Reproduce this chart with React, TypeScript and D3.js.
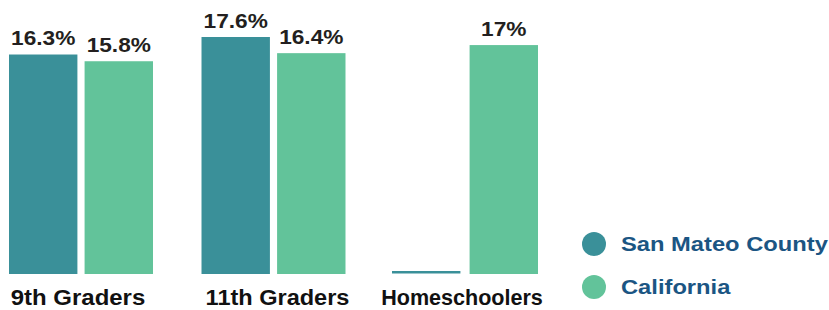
import * as d3 from "d3";
import React, { useEffect, useRef } from "react";

const categories = ["9th Graders", "11th Graders", "Homeschoolers"];
const seriesNames = ["San Mateo County", "California"];
const sanMateo: (number | null)[] = [16.3, 17.6, null];
const california: (number | null)[] = [15.8, 16.4, 17];
const valueLabels = [
	["16.3%", "17.6%", ""],
	["15.8%", "16.4%", "17%"],
];
const colors = ["#3a9099", "#62c39a"];

const W = 829;
const H = 310;
const FONT = "'Liberation Sans', Arial, Helvetica, sans-serif";

const App = () => {
	const ref = useRef<SVGSVGElement>(null);

	useEffect(() => {
		const svg = d3.select(ref.current);
		svg.selectAll("*").remove();

		// the source text is a bit wider than Arial, so stretch it horizontally
		const addText = (
			x: number,
			y: number,
			txt: string,
			size: number,
			color: string,
			anchor: string,
			stretch: number
		) => {
			svg.append("text")
				.attr("transform", `translate(${x},${y}) scale(${stretch},1)`)
				.attr("text-anchor", anchor)
				.attr("font-family", FONT)
				.attr("font-weight", "bold")
				.attr("font-size", size)
				.attr("fill", color)
				.text(txt);
		};

		const base = 274;
		const y = d3.scaleLinear().domain([0, 17.6]).range([base, 37]);
		const x0 = d3
			.scaleBand()
			.domain(categories)
			.range([9, 538])
			.paddingInner(0.252);
		const x1 = d3
			.scaleBand()
			.domain(seriesNames)
			.range([0, x0.bandwidth()])
			.paddingInner(0.095);

		const all = [sanMateo, california];

		all.forEach((vals, si) => {
			vals.forEach((v, ci) => {
				const gx = (x0(categories[ci]) as number) + (x1(seriesNames[si]) as number);
				if (v === null) {
					// no data: thin stub on the baseline
					svg.append("rect")
						.attr("x", gx - 2)
						.attr("y", y(0) - 3)
						.attr("width", x1.bandwidth())
						.attr("height", 2.5)
						.attr("fill", colors[si]);
					return;
				}
				svg.append("rect")
					.attr("x", gx)
					.attr("y", y(v))
					.attr("width", x1.bandwidth())
					.attr("height", y(0) - y(v))
					.attr("fill", colors[si]);
				addText(gx + x1.bandwidth() / 2, y(v) - 9.5, valueLabels[si][ci], 21, "#231f20", "middle", 1.08);
			});
		});

		// category labels
		const nudge = [-3, 4, -4];
		const stretch = [1.09, 1.07, 0.98];
		categories.forEach((c, i) => {
			addText((x0(c) as number) + x0.bandwidth() / 2 + nudge[i], 305, c, 22, "#111", "middle", stretch[i]);
		});

		// legend
		seriesNames.forEach((s, i) => {
			const ly = 244 + i * 43;
			svg.append("circle")
				.attr("cx", 594)
				.attr("cy", ly)
				.attr("r", 12)
				.attr("fill", colors[i]);
			addText(621, ly + 7, s, 21, "#1b5583", "start", 1.13);
		});
	}, []);

	return (
		<svg
			ref={ref}
			width={W}
			height={H}
			style={{ position: "absolute", left: 0, top: 0, background: "#fff" }}
		/>
	);
};

export default App;
